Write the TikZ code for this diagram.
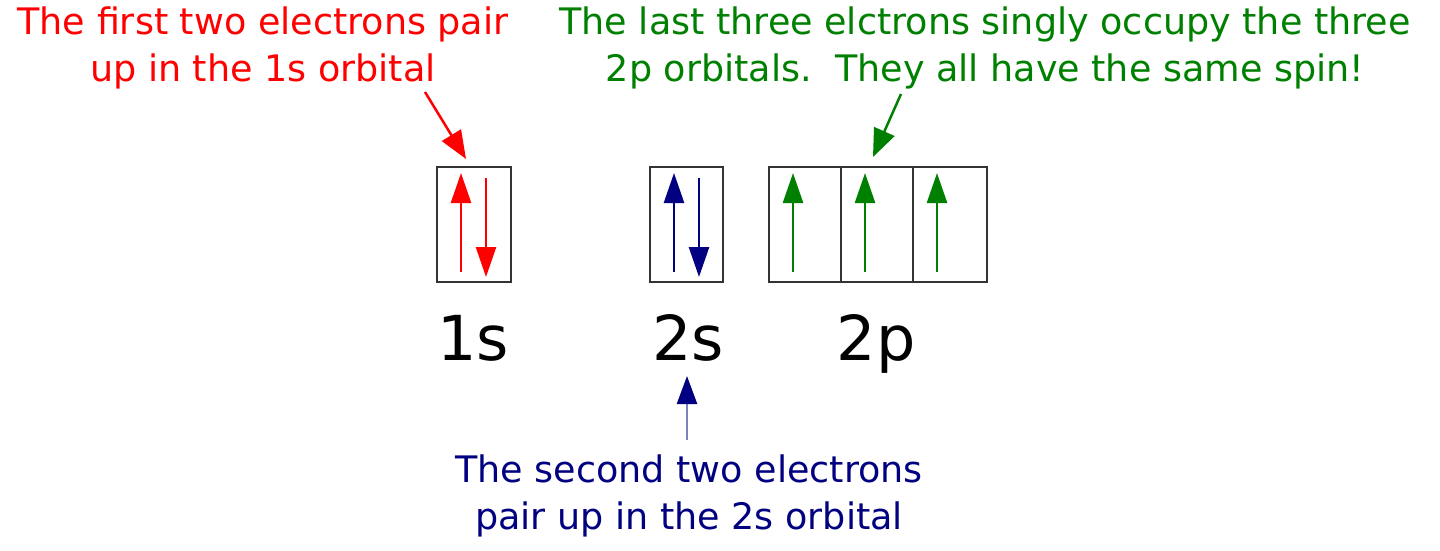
\documentclass[tikz,border=0pt]{standalone}
\usepackage{fontspec}
\setmainfont{DejaVu Sans}
\usetikzlibrary{arrows.meta}
\definecolor{myred}{RGB}{255,0,0}
\definecolor{mygreen}{RGB}{0,128,0}
\definecolor{mynavy}{RGB}{0,0,128}
\begin{document}
\begin{tikzpicture}[x=1pt,y=-1pt,
  orb/.style={draw=black!80,line width=2.5pt},
  spin/.style={line width=2.5pt,-{Triangle[length=30pt,width=20pt]}},
  note/.style={font=\fontsize{36.5}{47}\selectfont,align=center,inner sep=0},
  lbl/.style={font=\fontsize{62}{62}\selectfont,inner sep=0,anchor=base},
  pointer/.style={line width=2.5pt,-{Triangle[length=28pt,width=22pt]}}]
\useasboundingbox (0,0) rectangle (1440,550);
\draw[orb] (437,167) rectangle (511,282);
\draw[orb] (650,167) rectangle (723,282);
\draw[orb] (769,167) rectangle (987,282);
\draw[orb] (841,167) -- (841,282) (913,167) -- (913,282);
\coordinate (a1) at (461,272); \coordinate (a1e) at (461,173);
\coordinate (a2) at (486,178); \coordinate (a2e) at (486,277);
\draw[spin,myred] (a1) -- (a1e);
\draw[spin,myred] (a2) -- (a2e);
\coordinate (b1) at (674,272); \coordinate (b1e) at (674,173);
\coordinate (b2) at (699,178); \coordinate (b2e) at (699,277);
\draw[spin,mynavy] (b1) -- (b1e);
\draw[spin,mynavy] (b2) -- (b2e);
\foreach \x in {793,865,937}{
  \coordinate (p\x) at (\x,272); \coordinate (q\x) at (\x,173);
  \draw[spin,mygreen] (p\x) -- (q\x);}
\node[lbl] (l1) at (473,360) {1s};
\node[lbl] (l2) at (688,360) {2s};
\node[lbl] (l3) at (876,360) {2p};
\node[note,text=myred] (t1) at (263,48) {The first two electrons pair\\up in the 1s orbital};
\node[note,text=mygreen] (t2) at (985,48) {The last three elctrons singly occupy the three\\2p orbitals.\ \ They all have the same spin!};
\node[note,text=mynavy] (t3) at (689,496) {The second two electrons\\pair up in the 2s orbital};
\coordinate (r0) at (425,92); \coordinate (r1) at (466,159);
\draw[pointer,myred] (r0) -- (r1);
\coordinate (g0) at (901,94); \coordinate (g1) at (873,157);
\draw[pointer,mygreen] (g0) -- (g1);
\coordinate (n0) at (687,440); \coordinate (n1) at (687,376);
\draw[mynavy!50,line width=2.5pt,-{Triangle[length=28pt,width=20pt,color=mynavy]}] (n0) -- (n1);
\end{tikzpicture}
\end{document}
